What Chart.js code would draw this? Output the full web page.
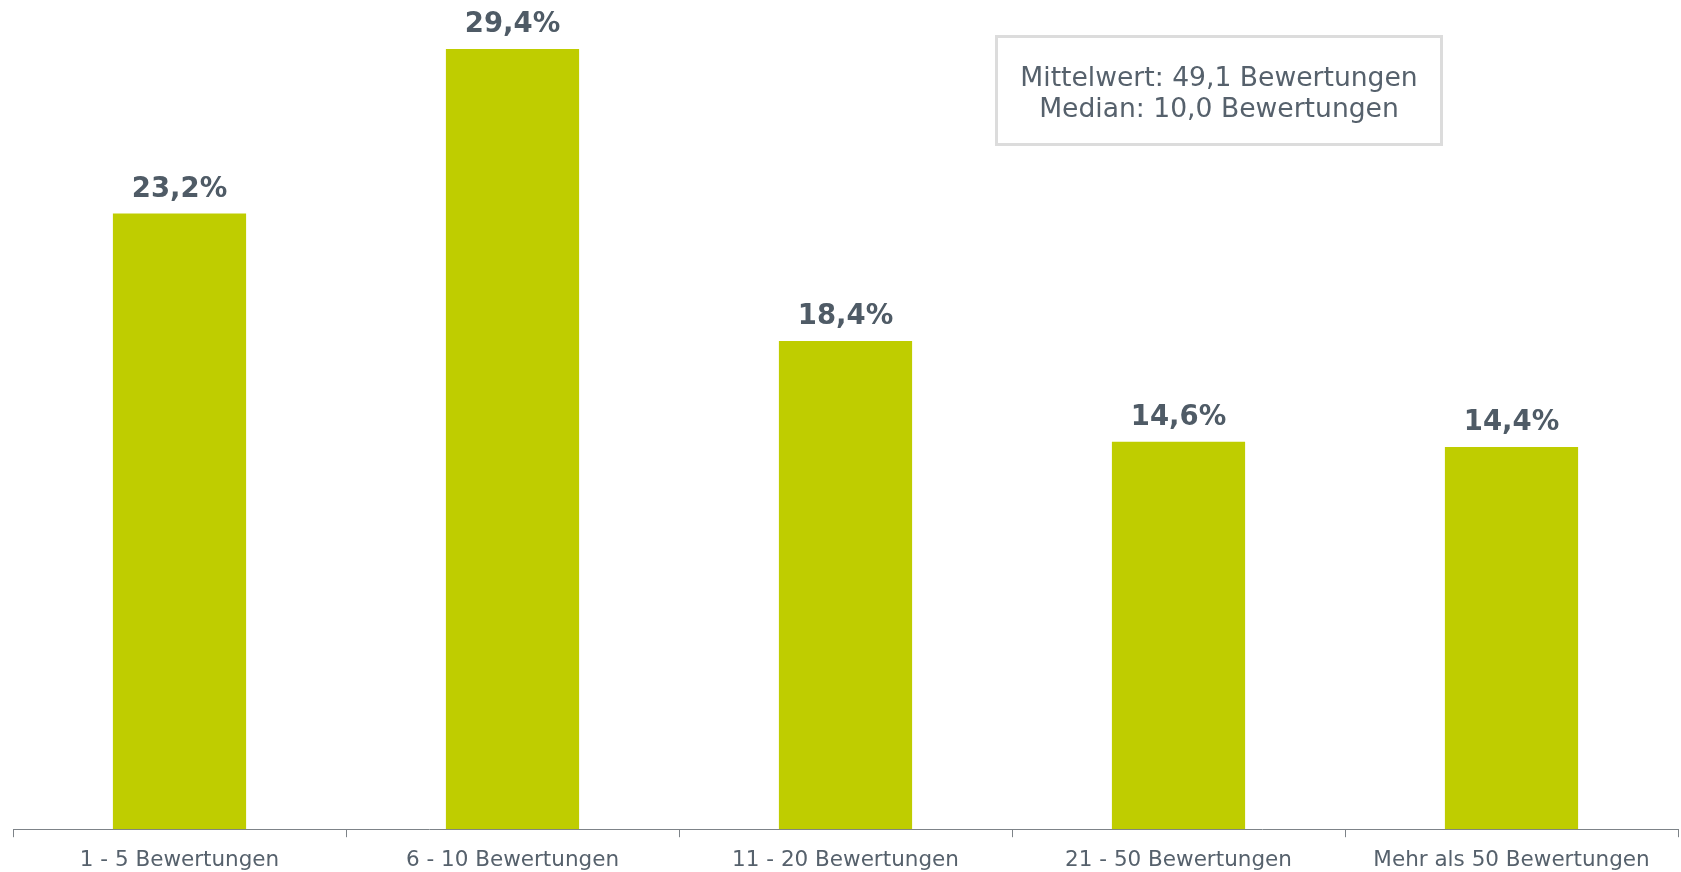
<!DOCTYPE html>
<html>
<head>
<meta charset="utf-8">
<script src="https://cdn.jsdelivr.net/npm/chart.js@4"></script>
<style>
  html, body { margin: 0; padding: 0; background: #fff; overflow: hidden; }
  #wrap { position: relative; width: 1681px; height: 872px; overflow: hidden; }
  #statsBox {
    position: absolute; left: 995px; top: 35px; width: 442px; height: 103px;
    border: 3px solid #dcdcdc; display: flex; flex-direction: column;
    justify-content: center; align-items: center;
    font-family: "DejaVu Sans", sans-serif; font-size: 26.6px; line-height: 31px;
    color: #56616c; padding-top: 2px; box-sizing: content-box;
  }
</style>
</head>
<body>
<div id="wrap">
  <canvas id="chart" width="1681" height="885"></canvas>
  <div id="statsBox"></div>
</div>
<script>
// Chart data
const categories = ['1 - 5 Bewertungen', '6 - 10 Bewertungen', '11 - 20 Bewertungen', '21 - 50 Bewertungen', 'Mehr als 50 Bewertungen'];
const shares = [23.2, 29.4, 18.4, 14.6, 14.4];
const statLabels = ['Mittelwert', 'Median'];
const statValues = [49.1, 10.0];

const TEXT_COLOR = '#4f5b66';
const BAR_COLOR = '#bfcd00';
const AXIS_COLOR = '#7d8388';

// Utility: German decimal format
const fmt = v => v.toFixed(1).replace('.', ',');

document.getElementById('statsBox').innerHTML = statLabels
  .map((l, i) => `<div>${l}: ${fmt(statValues[i])} Bewertungen</div>`)
  .join('');

// Value labels above bars
const valueLabels = {
  id: 'valueLabels',
  afterDatasetsDraw(chart) {
    const ctx = chart.ctx;
    const meta = chart.getDatasetMeta(0);
    ctx.save();
    ctx.font = 'bold 27.5px "DejaVu Sans"';
    ctx.fillStyle = TEXT_COLOR;
    ctx.textAlign = 'center';
    ctx.textBaseline = 'alphabetic';
    meta.data.forEach((bar, i) => {
      ctx.fillText(fmt(shares[i]) + '%', bar.x, bar.y - 17);
    });
    ctx.restore();
  }
};

new Chart(document.getElementById('chart'), {
  type: 'bar',
  data: {
    labels: categories,
    datasets: [{
      data: shares,
      backgroundColor: BAR_COLOR,
      borderWidth: 0,
      categoryPercentage: 1,
      barPercentage: 0.4
    }]
  },
  options: {
    responsive: false,
    animation: false,
    layout: { padding: { left: 13, right: 3, top: 0, bottom: 2 } },
    plugins: {
      legend: { display: false },
      tooltip: { enabled: false }
    },
    scales: {
      x: {
        offset: true,
        grid: {
          offset: true,
          drawOnChartArea: false,
          drawTicks: true,
          tickLength: 8,
          color: AXIS_COLOR
        },
        border: { display: true, color: AXIS_COLOR, width: 1 },
        ticks: {
          color: '#56616c',
          padding: 10,
          font: { family: 'DejaVu Sans', size: 21.5 },
          maxRotation: 0,
          autoSkip: false
        }
      },
      y: {
        display: false,
        min: 0,
        max: 31.25
      }
    }
  },
  plugins: [valueLabels]
});
</script>
</body>
</html>
